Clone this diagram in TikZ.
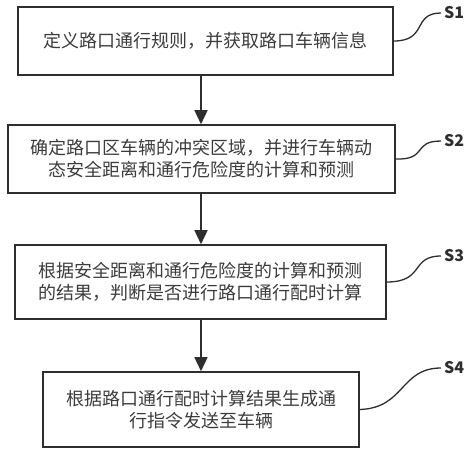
\documentclass[tikz,border=0pt]{standalone}
\usepackage{fontspec}
\setmainfont{Noto Sans CJK SC}
\usetikzlibrary{arrows.meta}
\definecolor{txt}{HTML}{3C3C3C}
\definecolor{ln}{HTML}{2E2E2E}
\begin{document}
\begin{tikzpicture}[x=1pt,y=-1pt,
  stepbox/.style={draw=ln,line width=1.6pt,text=txt,font=\fontsize{18}{22}\selectfont,align=center,inner sep=0pt},
  flow/.style={draw=ln,line width=1.6pt,-{Triangle[length=14pt,width=13pt]}},
  tag/.style={font=\fontsize{16}{18}\selectfont\bfseries,text=ln,inner sep=0pt},
  squig/.style={draw=ln,line width=1.3pt}]
\useasboundingbox (0,0) rectangle (474,453);
\node[stepbox,minimum width=375pt,minimum height=68pt] (b1) at (205.5,41) {定义路口通行规则，并获取路口车辆信息};
\node[stepbox,minimum width=387pt,minimum height=68pt] (b2) at (201.5,159) {确定路口区车辆的冲突区域，并进行车辆动\\态安全距离和通行危险度的计算和预测};
\node[stepbox,minimum width=371pt,minimum height=74pt] (b3) at (200.5,282) {根据安全距离和通行危险度的计算和预测\\的结果，判断是否进行路口通行配时计算};
\node[stepbox,minimum width=316pt,minimum height=75pt] (b4) at (201,409.5) {根据路口通行配时计算结果生成通\\行指令发送至车辆};
\draw[flow] (b1.south -| 201,0) -- (b2.north -| 201,0);
\draw[flow] (b2.south -| 201,0) -- (b3.north -| 201,0);
\draw[flow] (b3.south -| 201,0) -- (b4.north -| 201,0);
\node[tag,anchor=west] (s1) at (444,13) {S1};
\node[tag,anchor=west] (s2) at (444,141) {S2};
\node[tag,anchor=west] (s3) at (444,256) {S3};
\node[tag,anchor=west] (s4) at (444,368) {S4};
\draw[squig] (b1.east) .. controls (428,41) and (412,13) .. ([xshift=-3pt]s1.west);
\draw[squig] (b2.east) .. controls (428,160) and (412,141) .. ([xshift=-3pt]s2.west);
\draw[squig] (b3.east) .. controls (425,282) and (410,256) .. ([xshift=-3pt]s3.west);
\draw[squig] (b4.east) .. controls (405,408) and (400,368) .. ([xshift=-3pt]s4.west);
\end{tikzpicture}
\end{document}
